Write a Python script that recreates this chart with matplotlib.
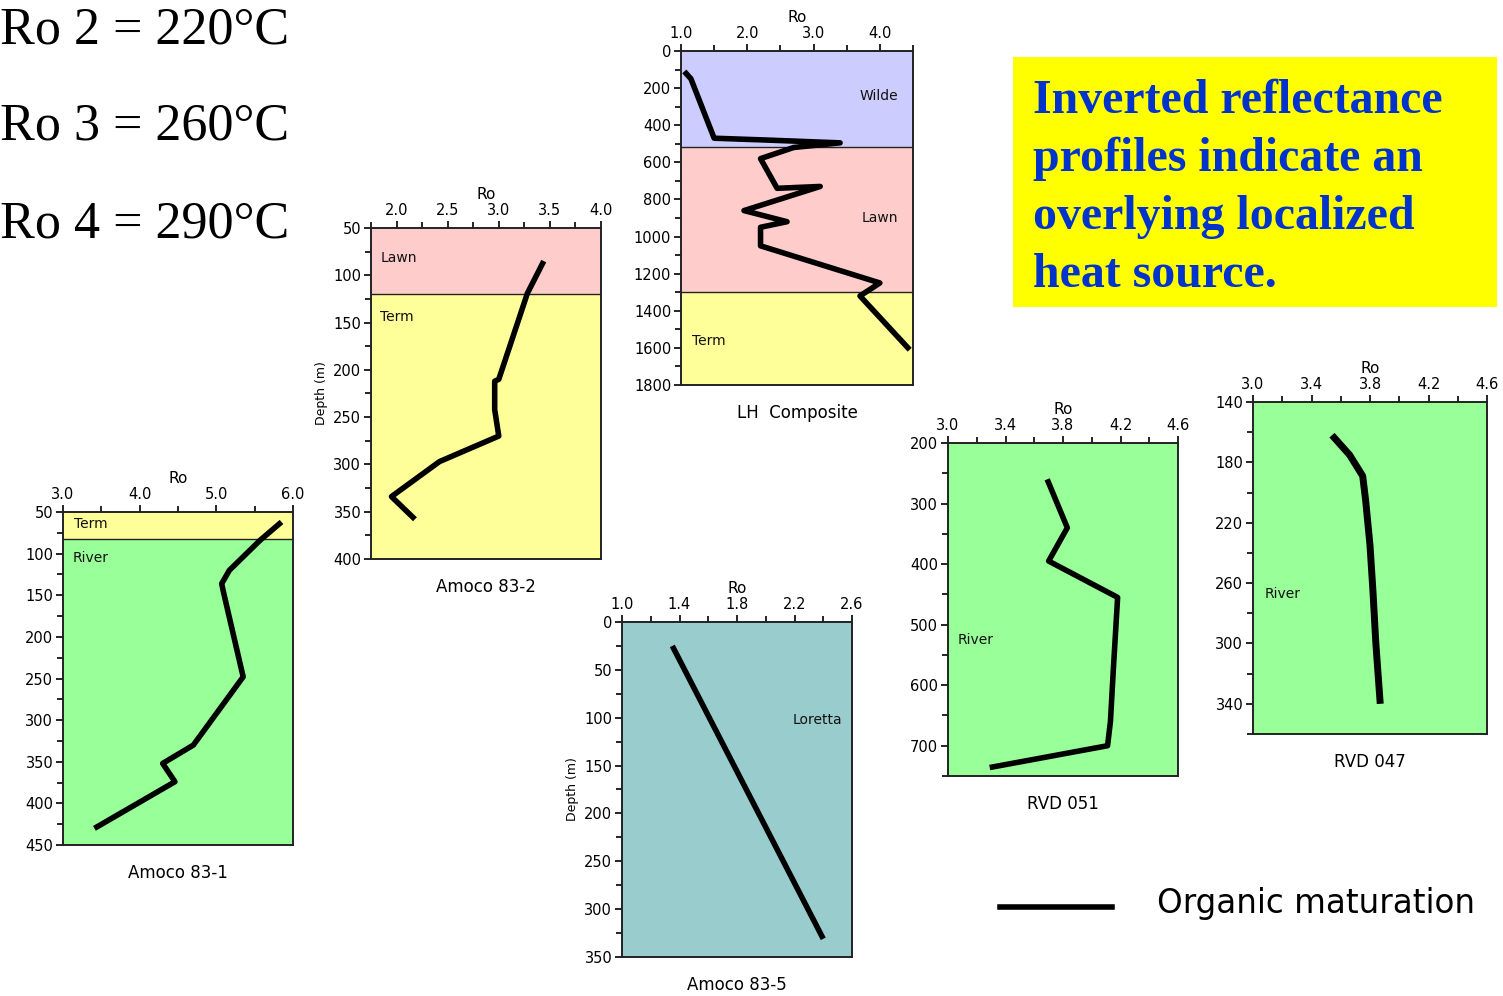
import numpy as np
import matplotlib.pyplot as plt
from matplotlib.ticker import MultipleLocator, FormatStrFormatter
from matplotlib.patches import Rectangle
from matplotlib.lines import Line2D

W, H = 1503, 996

# ---- values ----
# Amoco 83-1
ro_831 = [5.85, 5.57, 5.17, 5.07, 5.09, 5.35, 4.70, 4.30, 4.46, 3.41]
depth_831 = [62, 84, 120, 136, 145, 248, 330, 352, 374, 430]
units_831 = ['Term', 'River']
bounds_831 = [50, 82, 450]

# Amoco 83-2
ro_832 = [3.44, 3.28, 3.00, 2.96, 2.96, 3.00, 2.42, 1.95, 2.18]
depth_832 = [85, 119, 210, 212, 242, 270, 297, 334, 358]
units_832 = ['Lawn', 'Term']
bounds_832 = [50, 120, 400]

# LH Composite
ro_lh = [1.05, 1.15, 1.50, 2.30, 3.40, 2.70, 2.20, 2.45, 3.10, 1.95, 2.60, 2.20, 2.20, 4.00, 3.70, 4.45]
depth_lh = [110, 150, 470, 480, 495, 520, 580, 740, 730, 860, 920, 950, 1050, 1250, 1320, 1610]
units_lh = ['Wilde', 'Lawn', 'Term']
bounds_lh = [0, 520, 1300, 1800]

# Amoco 83-5
ro_835 = [1.35, 2.40]
depth_835 = [25, 331]
units_835 = ['Loretta']
bounds_835 = [0, 350]

# RVD 051
ro_051 = [3.69, 3.83, 3.70, 4.18, 4.17, 4.15, 4.13, 4.11, 3.29]
depth_051 = [260, 340, 395, 455, 495, 575, 660, 700, 736]
units_051 = ['River']
bounds_051 = [200, 750]

# RVD 047
ro_047 = [3.54, 3.66, 3.75, 3.77, 3.80, 3.82, 3.84, 3.87]
depth_047 = [162, 175, 189, 205, 235, 265, 300, 340]
units_047 = ['River']
bounds_047 = [140, 360]

unit_colors = {'Term': '#FFFF99', 'River': '#99FF99', 'Lawn': '#FFCCCC',
               'Wilde': '#CCCCFF', 'Loretta': '#99CCCC'}

ro_notes = ['Ro 2 = 220°C', 'Ro 3 = 260°C', 'Ro 4 = 290°C']
box_lines = ['Inverted reflectance', 'profiles indicate an',
             'overlying localized', 'heat source.']

fig = plt.figure(figsize=(W / 100, H / 100), dpi=100)


def px_axes(left, top, right, bottom):
    # place an axes using pixel edges measured from the top-left corner
    return fig.add_axes([left / W, 1 - bottom / H, (right - left) / W, (bottom - top) / H])


def draw_well(box, ro, depth, xlim, ylim, xt, yt, units, bounds,
              label_pos, title, ylabel=False, lw=4):
    # xt / yt = (first labelled tick, major step, minor step)
    ax = px_axes(*box)
    for i, name in enumerate(units):
        ax.axhspan(bounds[i], bounds[i + 1], color=unit_colors[name], zorder=0, lw=0)
        if i > 0:
            ax.axhline(bounds[i], color='#222222', lw=1.0, zorder=1)
        x, y, ha = label_pos[i]
        ax.text(x, y, name, transform=ax.transAxes, ha=ha, va='center',
                fontsize=10, color='#111111')
    ax.plot(ro, depth, color='black', lw=lw, solid_capstyle='butt', zorder=3)

    ax.xaxis.tick_top()
    ax.xaxis.set_label_position('top')
    ax.set_xticks(np.arange(xt[0], xlim[1] + 1e-6, xt[1]))
    ax.xaxis.set_minor_locator(MultipleLocator(xt[2]))
    ax.xaxis.set_major_formatter(FormatStrFormatter('%.1f'))
    ax.set_yticks(np.arange(yt[0], ylim[1] + 1e-6, yt[1]))
    ax.yaxis.set_minor_locator(MultipleLocator(yt[2]))
    ax.yaxis.set_major_formatter(FormatStrFormatter('%d'))
    ax.set_xlim(*xlim)
    ax.set_ylim(ylim[1], ylim[0])
    ax.tick_params(which='both', direction='out', labelsize=10.5, width=1.2,
                   top=True, bottom=False, right=False, left=True, pad=2)
    ax.tick_params(which='major', length=5)
    ax.tick_params(which='minor', length=4)
    for s in ax.spines.values():
        s.set_linewidth(1.4)
        s.set_color('#222222')
    ax.set_xlabel('Ro', fontsize=11, labelpad=3)
    if ylabel:
        ax.set_ylabel('Depth (m)', fontsize=9, labelpad=4)
    ax.text(0.5, -0.085, title, transform=ax.transAxes, ha='center', va='center',
            fontsize=12)
    return ax


draw_well((63, 512, 293, 845), ro_831, depth_831, (3.0, 6.0), (50, 450),
          (3.0, 1.0, 0.5), (50, 50, 25), units_831, bounds_831,
          [(0.05, 0.963, 'left'), (0.04, 0.861, 'left')], 'Amoco 83-1')

draw_well((371, 228, 601, 559), ro_832, depth_832, (1.75, 4.0), (50, 400),
          (2.0, 0.5, 0.25), (50, 50, 25), units_832, bounds_832,
          [(0.04, 0.91, 'left'), (0.04, 0.732, 'left')], 'Amoco 83-2', ylabel=True)

draw_well((681, 51, 913, 385), ro_lh, depth_lh, (1.0, 4.5), (0, 1800),
          (1.0, 1.0, 0.5), (0, 200, 100), units_lh, bounds_lh,
          [(0.935, 0.864, 'right'), (0.935, 0.50, 'right'), (0.047, 0.132, 'left')],
          'LH  Composite')

draw_well((622, 622, 852, 957), ro_835, depth_835, (1.0, 2.6), (0, 350),
          (1.0, 0.4, 0.2), (0, 50, 25), units_835, bounds_835,
          [(0.958, 0.708, 'right')], 'Amoco 83-5', ylabel=True)

draw_well((948, 443, 1178, 776), ro_051, depth_051, (3.0, 4.6), (200, 750),
          (3.0, 0.4, 0.2), (200, 100, 50), units_051, bounds_051,
          [(0.043, 0.408, 'left')], 'RVD 051')

draw_well((1253, 402, 1487, 734), ro_047, depth_047, (3.0, 4.6), (140, 360),
          (3.0, 0.4, 0.2), (140, 40, 20), units_047, bounds_047,
          [(0.05, 0.422, 'left')], 'RVD 047', lw=5)

# temperature notes, top left
for i, note in enumerate(ro_notes):
    fig.text(0 / W, 1 - (43 + 97 * i) / H, note, ha='left', va='baseline',
             fontsize=37.5, family='Liberation Serif', color='black')

# yellow call-out box
fig.patches.append(Rectangle((1013 / W, 1 - 307 / H), (1497 - 1013) / W, 250 / H,
                             transform=fig.transFigure, facecolor='#FFFF00',
                             edgecolor='none', zorder=0))
for i, line in enumerate(box_lines):
    fig.text(1033 / W, 1 - (113 + 58 * i) / H, line, ha='left', va='baseline',
             fontsize=34.5, family='Liberation Serif', weight='bold', color='#0033CC')

# legend
fig.lines.append(Line2D([1000 / W, 1112 / W], [1 - 907 / H, 1 - 907 / H],
                        transform=fig.transFigure, color='black', lw=4))
fig.text(1157 / W, 1 - 913 / H, 'Organic maturation', ha='left', va='baseline',
         fontsize=23.5, color='black')

fig.savefig('out.png', dpi=100, facecolor='white')
